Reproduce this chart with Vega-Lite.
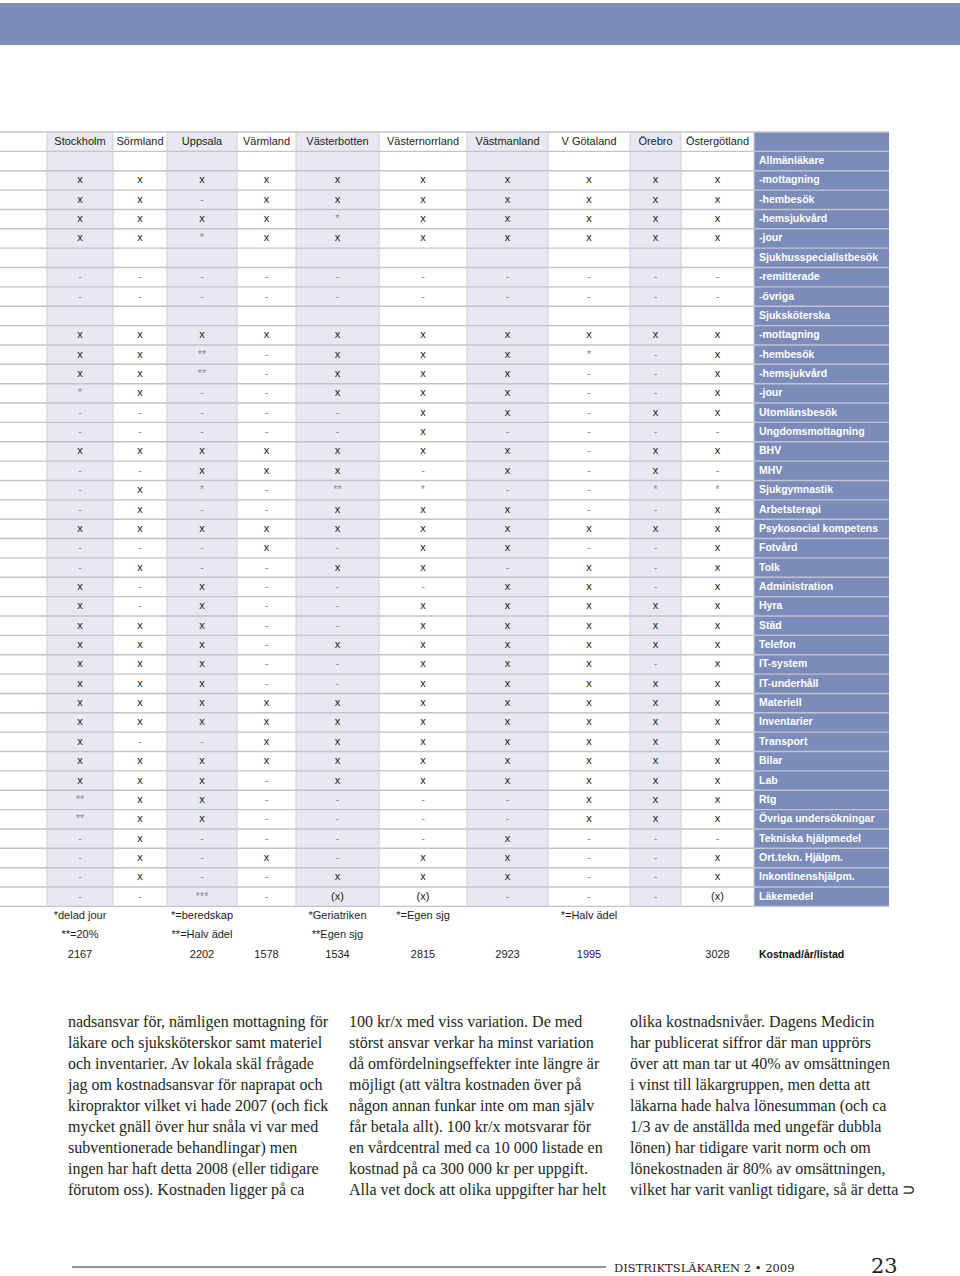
{
  "$schema": "https://vega.github.io/schema/vega-lite/v6.json",
  "width": 960,
  "height": 1276,
  "padding": 0,
  "autosize": {"type": "none"},
  "background": "#ffffff",
  "config": {"view": {"stroke": null}, "font": "Liberation Sans"},
  "datasets": {
    "columns": [
      {"region": "Stockholm", "col": 0, "colEnd": 1},
      {"region": "Sörmland", "col": 1, "colEnd": 2},
      {"region": "Uppsala", "col": 2, "colEnd": 3},
      {"region": "Värmland", "col": 3, "colEnd": 4},
      {"region": "Västerbotten", "col": 4, "colEnd": 5},
      {"region": "Västernorrland", "col": 5, "colEnd": 6},
      {"region": "Västmanland", "col": 6, "colEnd": 7},
      {"region": "V Götaland", "col": 7, "colEnd": 8},
      {"region": "Örebro", "col": 8, "colEnd": 9},
      {"region": "Östergötland", "col": 9, "colEnd": 10},
      {"region": "Kostnadsslag", "col": 10, "colEnd": 11}
    ],
    "rows": [
      {"r": 0, "label": "", "Stockholm": "Stockholm", "Sörmland": "Sörmland", "Uppsala": "Uppsala", "Värmland": "Värmland", "Västerbotten": "Västerbotten", "Västernorrland": "Västernorrland", "Västmanland": "Västmanland", "V Götaland": "V Götaland", "Örebro": "Örebro", "Östergötland": "Östergötland"},
      {"r": 1, "label": "Allmänläkare"},
      {"r": 2, "label": "-mottagning", "Stockholm": "x", "Sörmland": "x", "Uppsala": "x", "Värmland": "x", "Västerbotten": "x", "Västernorrland": "x", "Västmanland": "x", "V Götaland": "x", "Örebro": "x", "Östergötland": "x"},
      {"r": 3, "label": "-hembesök", "Stockholm": "x", "Sörmland": "x", "Uppsala": "-", "Värmland": "x", "Västerbotten": "x", "Västernorrland": "x", "Västmanland": "x", "V Götaland": "x", "Örebro": "x", "Östergötland": "x"},
      {"r": 4, "label": "-hemsjukvård", "Stockholm": "x", "Sörmland": "x", "Uppsala": "x", "Värmland": "x", "Västerbotten": "*", "Västernorrland": "x", "Västmanland": "x", "V Götaland": "x", "Örebro": "x", "Östergötland": "x"},
      {"r": 5, "label": "-jour", "Stockholm": "x", "Sörmland": "x", "Uppsala": "*", "Värmland": "x", "Västerbotten": "x", "Västernorrland": "x", "Västmanland": "x", "V Götaland": "x", "Örebro": "x", "Östergötland": "x"},
      {"r": 6, "label": "Sjukhusspecialistbesök"},
      {"r": 7, "label": "-remitterade", "Stockholm": "-", "Sörmland": "-", "Uppsala": "-", "Värmland": "-", "Västerbotten": "-", "Västernorrland": "-", "Västmanland": "-", "V Götaland": "-", "Örebro": "-", "Östergötland": "-"},
      {"r": 8, "label": "-övriga", "Stockholm": "-", "Sörmland": "-", "Uppsala": "-", "Värmland": "-", "Västerbotten": "-", "Västernorrland": "-", "Västmanland": "-", "V Götaland": "-", "Örebro": "-", "Östergötland": "-"},
      {"r": 9, "label": "Sjuksköterska"},
      {"r": 10, "label": "-mottagning", "Stockholm": "x", "Sörmland": "x", "Uppsala": "x", "Värmland": "x", "Västerbotten": "x", "Västernorrland": "x", "Västmanland": "x", "V Götaland": "x", "Örebro": "x", "Östergötland": "x"},
      {"r": 11, "label": "-hembesök", "Stockholm": "x", "Sörmland": "x", "Uppsala": "**", "Värmland": "-", "Västerbotten": "x", "Västernorrland": "x", "Västmanland": "x", "V Götaland": "*", "Örebro": "-", "Östergötland": "x"},
      {"r": 12, "label": "-hemsjukvård", "Stockholm": "x", "Sörmland": "x", "Uppsala": "**", "Värmland": "-", "Västerbotten": "x", "Västernorrland": "x", "Västmanland": "x", "V Götaland": "-", "Örebro": "-", "Östergötland": "x"},
      {"r": 13, "label": "-jour", "Stockholm": "*", "Sörmland": "x", "Uppsala": "-", "Värmland": "-", "Västerbotten": "x", "Västernorrland": "x", "Västmanland": "x", "V Götaland": "-", "Örebro": "-", "Östergötland": "x"},
      {"r": 14, "label": "Utomlänsbesök", "Stockholm": "-", "Sörmland": "-", "Uppsala": "-", "Värmland": "-", "Västerbotten": "-", "Västernorrland": "x", "Västmanland": "x", "V Götaland": "-", "Örebro": "x", "Östergötland": "x"},
      {"r": 15, "label": "Ungdomsmottagning", "Stockholm": "-", "Sörmland": "-", "Uppsala": "-", "Värmland": "-", "Västerbotten": "-", "Västernorrland": "x", "Västmanland": "-", "V Götaland": "-", "Örebro": "-", "Östergötland": "-"},
      {"r": 16, "label": "BHV", "Stockholm": "x", "Sörmland": "x", "Uppsala": "x", "Värmland": "x", "Västerbotten": "x", "Västernorrland": "x", "Västmanland": "x", "V Götaland": "-", "Örebro": "x", "Östergötland": "x"},
      {"r": 17, "label": "MHV", "Stockholm": "-", "Sörmland": "-", "Uppsala": "x", "Värmland": "x", "Västerbotten": "x", "Västernorrland": "-", "Västmanland": "x", "V Götaland": "-", "Örebro": "x", "Östergötland": "-"},
      {"r": 18, "label": "Sjukgymnastik", "Stockholm": "-", "Sörmland": "x", "Uppsala": "*", "Värmland": "-", "Västerbotten": "**", "Västernorrland": "*", "Västmanland": "-", "V Götaland": "-", "Örebro": "*", "Östergötland": "*"},
      {"r": 19, "label": "Arbetsterapi", "Stockholm": "-", "Sörmland": "x", "Uppsala": "-", "Värmland": "-", "Västerbotten": "x", "Västernorrland": "x", "Västmanland": "x", "V Götaland": "-", "Örebro": "-", "Östergötland": "x"},
      {"r": 20, "label": "Psykosocial kompetens", "Stockholm": "x", "Sörmland": "x", "Uppsala": "x", "Värmland": "x", "Västerbotten": "x", "Västernorrland": "x", "Västmanland": "x", "V Götaland": "x", "Örebro": "x", "Östergötland": "x"},
      {"r": 21, "label": "Fotvård", "Stockholm": "-", "Sörmland": "-", "Uppsala": "-", "Värmland": "x", "Västerbotten": "-", "Västernorrland": "x", "Västmanland": "x", "V Götaland": "-", "Örebro": "-", "Östergötland": "x"},
      {"r": 22, "label": "Tolk", "Stockholm": "-", "Sörmland": "x", "Uppsala": "-", "Värmland": "-", "Västerbotten": "x", "Västernorrland": "x", "Västmanland": "-", "V Götaland": "x", "Örebro": "-", "Östergötland": "x"},
      {"r": 23, "label": "Administration", "Stockholm": "x", "Sörmland": "-", "Uppsala": "x", "Värmland": "-", "Västerbotten": "-", "Västernorrland": "-", "Västmanland": "x", "V Götaland": "x", "Örebro": "-", "Östergötland": "x"},
      {"r": 24, "label": "Hyra", "Stockholm": "x", "Sörmland": "-", "Uppsala": "x", "Värmland": "-", "Västerbotten": "-", "Västernorrland": "x", "Västmanland": "x", "V Götaland": "x", "Örebro": "x", "Östergötland": "x"},
      {"r": 25, "label": "Städ", "Stockholm": "x", "Sörmland": "x", "Uppsala": "x", "Värmland": "-", "Västerbotten": "-", "Västernorrland": "x", "Västmanland": "x", "V Götaland": "x", "Örebro": "x", "Östergötland": "x"},
      {"r": 26, "label": "Telefon", "Stockholm": "x", "Sörmland": "x", "Uppsala": "x", "Värmland": "-", "Västerbotten": "x", "Västernorrland": "x", "Västmanland": "x", "V Götaland": "x", "Örebro": "x", "Östergötland": "x"},
      {"r": 27, "label": "IT-system", "Stockholm": "x", "Sörmland": "x", "Uppsala": "x", "Värmland": "-", "Västerbotten": "-", "Västernorrland": "x", "Västmanland": "x", "V Götaland": "x", "Örebro": "-", "Östergötland": "x"},
      {"r": 28, "label": "IT-underhåll", "Stockholm": "x", "Sörmland": "x", "Uppsala": "x", "Värmland": "-", "Västerbotten": "-", "Västernorrland": "x", "Västmanland": "x", "V Götaland": "x", "Örebro": "x", "Östergötland": "x"},
      {"r": 29, "label": "Materiell", "Stockholm": "x", "Sörmland": "x", "Uppsala": "x", "Värmland": "x", "Västerbotten": "x", "Västernorrland": "x", "Västmanland": "x", "V Götaland": "x", "Örebro": "x", "Östergötland": "x"},
      {"r": 30, "label": "Inventarier", "Stockholm": "x", "Sörmland": "x", "Uppsala": "x", "Värmland": "x", "Västerbotten": "x", "Västernorrland": "x", "Västmanland": "x", "V Götaland": "x", "Örebro": "x", "Östergötland": "x"},
      {"r": 31, "label": "Transport", "Stockholm": "x", "Sörmland": "-", "Uppsala": "-", "Värmland": "x", "Västerbotten": "x", "Västernorrland": "x", "Västmanland": "x", "V Götaland": "x", "Örebro": "x", "Östergötland": "x"},
      {"r": 32, "label": "Bilar", "Stockholm": "x", "Sörmland": "x", "Uppsala": "x", "Värmland": "x", "Västerbotten": "x", "Västernorrland": "x", "Västmanland": "x", "V Götaland": "x", "Örebro": "x", "Östergötland": "x"},
      {"r": 33, "label": "Lab", "Stockholm": "x", "Sörmland": "x", "Uppsala": "x", "Värmland": "-", "Västerbotten": "x", "Västernorrland": "x", "Västmanland": "x", "V Götaland": "x", "Örebro": "x", "Östergötland": "x"},
      {"r": 34, "label": "Rtg", "Stockholm": "**", "Sörmland": "x", "Uppsala": "x", "Värmland": "-", "Västerbotten": "-", "Västernorrland": "-", "Västmanland": "-", "V Götaland": "x", "Örebro": "x", "Östergötland": "x"},
      {"r": 35, "label": "Övriga undersökningar", "Stockholm": "**", "Sörmland": "x", "Uppsala": "x", "Värmland": "-", "Västerbotten": "-", "Västernorrland": "-", "Västmanland": "-", "V Götaland": "x", "Örebro": "x", "Östergötland": "x"},
      {"r": 36, "label": "Tekniska hjälpmedel", "Stockholm": "-", "Sörmland": "x", "Uppsala": "-", "Värmland": "-", "Västerbotten": "-", "Västernorrland": "-", "Västmanland": "x", "V Götaland": "-", "Örebro": "-", "Östergötland": "-"},
      {"r": 37, "label": "Ort.tekn. Hjälpm.", "Stockholm": "-", "Sörmland": "x", "Uppsala": "-", "Värmland": "x", "Västerbotten": "-", "Västernorrland": "x", "Västmanland": "x", "V Götaland": "-", "Örebro": "-", "Östergötland": "x"},
      {"r": 38, "label": "Inkontinenshjälpm.", "Stockholm": "-", "Sörmland": "x", "Uppsala": "-", "Värmland": "-", "Västerbotten": "x", "Västernorrland": "x", "Västmanland": "x", "V Götaland": "-", "Örebro": "-", "Östergötland": "x"},
      {"r": 39, "label": "Läkemedel", "Stockholm": "-", "Sörmland": "-", "Uppsala": "***", "Värmland": "-", "Västerbotten": "(x)", "Västernorrland": "(x)", "Västmanland": "-", "V Götaland": "-", "Örebro": "-", "Östergötland": "(x)"},
      {"r": 40, "label": "", "Stockholm": "*delad jour", "Uppsala": "*=beredskap", "Västerbotten": "*Geriatriken", "Västernorrland": "*=Egen sjg", "V Götaland": "*=Halv ädel"},
      {"r": 41, "label": "", "Stockholm": "**=20%", "Uppsala": "**=Halv ädel", "Västerbotten": "**Egen sjg"},
      {"r": 42, "label": "Kostnad/år/listad", "Stockholm": "2167", "Uppsala": "2202", "Värmland": "1578", "Västerbotten": "1534", "Västernorrland": "2815", "Västmanland": "2923", "V Götaland": "1995", "Östergötland": "3028"}
    ],
    "body": [
      {"col": 0, "line": 0, "text": "nadsansvar för, nämligen mottagning för"},
      {"col": 0, "line": 1, "text": "läkare och sjuksköterskor samt materiel"},
      {"col": 0, "line": 2, "text": "och inventarier. Av lokala skäl frågade"},
      {"col": 0, "line": 3, "text": "jag om kostnadsansvar för naprapat och"},
      {"col": 0, "line": 4, "text": "kiropraktor vilket vi hade 2007 (och fick"},
      {"col": 0, "line": 5, "text": "mycket gnäll över hur snåla vi var med"},
      {"col": 0, "line": 6, "text": "subventionerade   behandlingar)   men"},
      {"col": 0, "line": 7, "text": "ingen har haft detta 2008 (eller tidigare"},
      {"col": 0, "line": 8, "text": "förutom oss). Kostnaden ligger på ca"},
      {"col": 1, "line": 0, "text": "100 kr/x med viss variation. De med"},
      {"col": 1, "line": 1, "text": "störst ansvar verkar ha minst variation"},
      {"col": 1, "line": 2, "text": "då omfördelningseffekter inte längre är"},
      {"col": 1, "line": 3, "text": "möjligt (att vältra kostnaden över på"},
      {"col": 1, "line": 4, "text": "någon annan funkar inte om man själv"},
      {"col": 1, "line": 5, "text": "får betala allt). 100 kr/x motsvarar för"},
      {"col": 1, "line": 6, "text": "en vårdcentral med ca 10 000 listade en"},
      {"col": 1, "line": 7, "text": "kostnad på ca 300 000 kr per uppgift."},
      {"col": 1, "line": 8, "text": "Alla vet dock att olika uppgifter har helt"},
      {"col": 2, "line": 0, "text": "olika kostnadsnivåer. Dagens Medicin"},
      {"col": 2, "line": 1, "text": "har publicerat siffror där man upprörs"},
      {"col": 2, "line": 2, "text": "över att man tar ut 40% av omsättningen"},
      {"col": 2, "line": 3, "text": "i vinst till läkargruppen, men detta att"},
      {"col": 2, "line": 4, "text": "läkarna hade halva lönesumman (och ca"},
      {"col": 2, "line": 5, "text": "1/3 av de anställda med ungefär dubbla"},
      {"col": 2, "line": 6, "text": "lönen) har tidigare varit norm och om"},
      {"col": 2, "line": 7, "text": "lönekostnaden är 80% av omsättningen,"},
      {"col": 2, "line": 8, "text": "vilket har varit vanligt tidigare, så är detta ⊃"}
    ],
    "footer": [
      {"item": "journal", "text": "DISTRIKTSLÄKAREN 2 • 2009"},
      {"item": "page", "text": "23"}
    ]
  },
  "layer": [
    {
      "data": {"values": [{"part": "masthead"}]},
      "mark": {"type": "rect", "color": "#7d8dba"},
      "encoding": {
        "x": {"field": "part", "type": "nominal", "scale": {"type": "band", "range": [0, 960], "paddingInner": 0, "paddingOuter": 0}, "axis": null},
        "y": {"field": "part", "type": "nominal", "scale": {"type": "band", "range": [3, 45], "paddingInner": 0, "paddingOuter": 0}, "axis": null}
      }
    },
    {
      "data": {"name": "columns"},
      "mark": {"type": "rect"},
      "encoding": {
        "x": {"field": "col", "type": "quantitative", "scale": {"domain": [-1, 0, 1, 2, 3, 4, 5, 6, 7, 8, 9, 10, 11], "range": [0, 47, 113, 167, 237, 296, 379, 467, 548, 630, 681, 754, 889], "zero": false, "nice": false}, "axis": null},
        "x2": {"field": "colEnd"},
        "y": {"datum": 0, "type": "quantitative", "scale": {"domain": [0, 43], "range": [132, 964.48], "zero": false, "nice": false}, "axis": null},
        "y2": {"datum": 40},
        "color": {"condition": [{"test": "datum.col === 10", "value": "#7b8cba"}, {"test": "datum.col % 2 === 0", "value": "#e7e8f1"}], "value": "#ffffff"}
      }
    },
    {
      "data": {"name": "rows"},
      "transform": [{"filter": "datum.r <= 40"}],
      "mark": {"type": "rule", "color": "#c2c3ce", "strokeWidth": 1.4},
      "encoding": {
        "y": {"field": "r", "type": "quantitative", "scale": {"domain": [0, 43], "range": [132, 964.48], "zero": false, "nice": false}, "axis": null},
        "x": {"datum": -1, "type": "quantitative", "scale": {"domain": [-1, 0, 1, 2, 3, 4, 5, 6, 7, 8, 9, 10, 11], "range": [0, 47, 113, 167, 237, 296, 379, 467, 548, 630, 681, 754, 889], "zero": false, "nice": false}, "axis": null},
        "x2": {"datum": 11}
      }
    },
    {
      "data": {"name": "columns"},
      "mark": {"type": "rule", "color": "#cdced7", "strokeWidth": 1},
      "encoding": {
        "x": {"field": "col", "type": "quantitative", "scale": {"domain": [-1, 0, 1, 2, 3, 4, 5, 6, 7, 8, 9, 10, 11], "range": [0, 47, 113, 167, 237, 296, 379, 467, 548, 630, 681, 754, 889], "zero": false, "nice": false}, "axis": null},
        "y": {"datum": 0, "type": "quantitative", "scale": {"domain": [0, 43], "range": [132, 964.48], "zero": false, "nice": false}, "axis": null},
        "y2": {"datum": 40}
      }
    },
    {
      "data": {"name": "rows"},
      "transform": [
        {"fold": ["Stockholm", "Sörmland", "Uppsala", "Värmland", "Västerbotten", "Västernorrland", "Västmanland", "V Götaland", "Örebro", "Östergötland"], "as": ["region", "value"]},
        {"filter": "isValid(datum.value) && datum.value !== ''"},
        {"lookup": "region", "from": {"data": {"name": "columns"}, "key": "region", "fields": ["col"]}}
      ],
      "mark": {"type": "text", "font": "Liberation Sans", "fontSize": 11, "baseline": "middle", "align": "center"},
      "encoding": {
        "x": {"field": "col", "type": "quantitative", "scale": {"domain": [0, 1, 2, 3, 4, 5, 6, 7, 8, 9, 10], "range": [80, 140, 202, 266.5, 337.5, 423, 507.5, 589, 655.5, 717.5, 821.5], "zero": false, "nice": false}, "axis": null},
        "y": {"field": "r", "type": "quantitative", "scale": {"domain": [0, 43], "range": [141.68, 974.16], "zero": false, "nice": false}, "axis": null},
        "text": {"field": "value", "type": "nominal"},
        "color": {"condition": {"test": "datum.value === '-' || datum.value === '*' || datum.value === '**' || datum.value === '***'", "value": "#8a8a8e"}, "value": "#1c1c1c"}
      }
    },
    {
      "data": {"name": "rows"},
      "transform": [{"filter": "datum.label !== ''"}],
      "mark": {"type": "text", "font": "Liberation Sans", "fontSize": 10.5, "fontWeight": "bold", "baseline": "middle", "align": "left", "dx": 5},
      "encoding": {
        "x": {"datum": 10, "type": "quantitative", "scale": {"domain": [-1, 0, 1, 2, 3, 4, 5, 6, 7, 8, 9, 10, 11], "range": [0, 47, 113, 167, 237, 296, 379, 467, 548, 630, 681, 754, 889], "zero": false, "nice": false}, "axis": null},
        "y": {"field": "r", "type": "quantitative", "scale": {"domain": [0, 43], "range": [141.68, 974.16], "zero": false, "nice": false}, "axis": null},
        "text": {"field": "label", "type": "nominal"},
        "color": {"condition": {"test": "datum.r >= 40", "value": "#111111"}, "value": "#ffffff"}
      }
    },
    {
      "data": {"name": "body"},
      "mark": {"type": "text", "font": "Liberation Serif", "fontSize": 16, "baseline": "alphabetic", "align": "left", "color": "#231f20"},
      "encoding": {
        "x": {"field": "col", "type": "quantitative", "scale": {"domain": [0, 2], "range": [68, 630], "zero": false, "nice": false}, "axis": null},
        "y": {"field": "line", "type": "quantitative", "scale": {"domain": [0, 8], "range": [1026.5, 1194.5], "zero": false, "nice": false}, "axis": null},
        "text": {"field": "text", "type": "nominal"}
      }
    },
    {
      "data": {"values": [{"item": "rule"}]},
      "mark": {"type": "rule", "color": "#6d6e71", "strokeWidth": 1.6},
      "encoding": {
        "x": {"datum": 0, "type": "quantitative", "scale": {"domain": [0, 1], "range": [72, 606], "zero": false, "nice": false}, "axis": null},
        "x2": {"datum": 1},
        "y": {"datum": 0, "type": "quantitative", "scale": {"domain": [0, 1], "range": [1267, 1268], "zero": false, "nice": false}, "axis": null}
      }
    },
    {
      "data": {"name": "footer"},
      "mark": {"type": "text", "font": "DejaVu Serif", "baseline": "alphabetic", "align": "left", "color": "#231f20"},
      "encoding": {
        "x": {"field": "item", "type": "nominal", "scale": {"type": "point", "domain": ["journal", "page"], "range": [614, 871], "padding": 0}, "axis": null},
        "y": {"field": "item", "type": "nominal", "scale": {"type": "point", "domain": ["journal", "page"], "range": [1271.5, 1272.5], "padding": 0}, "axis": null},
        "size": {"field": "item", "type": "nominal", "scale": {"domain": ["journal", "page"], "range": [11.5, 21]}, "legend": null},
        "text": {"field": "text", "type": "nominal"}
      }
    }
  ],
  "resolve": {"scale": {"x": "independent", "y": "independent", "size": "independent", "color": "independent"}}
}
